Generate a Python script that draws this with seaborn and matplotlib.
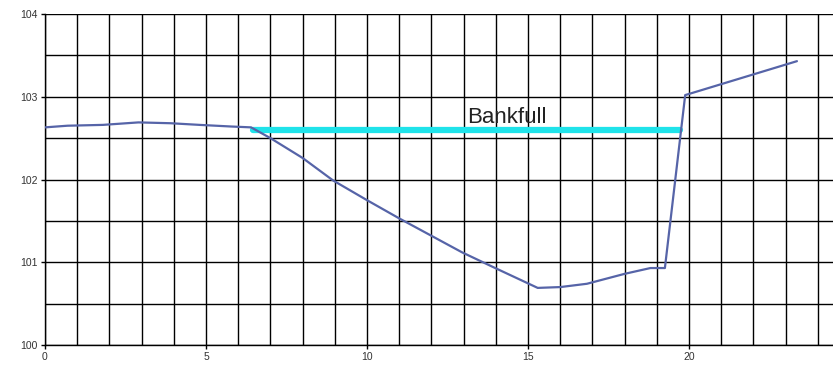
import matplotlib
matplotlib.use("Agg")
import matplotlib.pyplot as plt
import seaborn as sns
import pandas as pd
import numpy as np

# ground profile
station = [0, 0.7, 1.8, 2.9, 3.9, 4.8, 5.8, 6.4, 7.0, 8.0, 8.94, 10.0, 11.0, 12.95,
           13.98, 15.3, 16.0, 16.83, 18.0, 18.8, 19.25, 19.88, 23.35]
elevation = [102.63, 102.65, 102.66, 102.69, 102.68, 102.66, 102.64, 102.63, 102.50,
             102.26, 101.99, 101.75, 101.53, 101.12, 100.93, 100.69, 100.70, 100.74,
             100.86, 100.93, 100.93, 103.02, 103.43]
# bankfull line
bank_x = [6.46, 19.72]
bank_y = [102.6, 102.6]
bank_label = "Bankfull"

x_ticks = [0, 5, 10, 15, 20]
y_ticks = [100, 101, 102, 103, 104]

sns.set_theme(style="white")
plt.rcParams['font.family'] = ['Liberation Sans', 'DejaVu Sans']

fig = plt.figure(figsize=(8.33, 3.66), dpi=100)
ax = fig.add_axes([45/833, 21/366, 1 - 45/833, (345 - 14)/366])

ground = pd.DataFrame({"x": station, "y": elevation})
bank = pd.DataFrame({"x": bank_x, "y": bank_y})

sns.lineplot(data=bank, x="x", y="y", ax=ax, color="#1fe3ea", linewidth=4.5, sort=False, zorder=3)
sns.lineplot(data=ground, x="x", y="y", ax=ax, color="#5664a8", linewidth=1.6, sort=False, zorder=4)

ax.text(13.1, 102.68, bank_label, fontsize=16, color="#222222", ha="left", va="baseline", zorder=5)

ax.set_xlim(0, 24.47)
ax.set_ylim(100, 104)
ax.set_xticks(x_ticks)
ax.set_yticks(y_ticks)
ax.set_xticks(np.arange(0, 25, 1), minor=True)
ax.set_yticks(np.arange(100, 104.01, 0.5), minor=True)
ax.grid(True, which="both", color="black", linewidth=1.0)
ax.set_axisbelow(True)
ax.set_xlabel("")
ax.set_ylabel("")
ax.tick_params(axis="both", which="major", labelsize=7.5, labelcolor="#333333",
               length=3, width=1, color="black", direction="out", pad=2,
               bottom=True, left=True)
ax.tick_params(axis="both", which="minor", length=0)
for s in ["top", "right"]:
    ax.spines[s].set_visible(False)
for s in ["left", "bottom"]:
    ax.spines[s].set_color("black")
    ax.spines[s].set_linewidth(1.0)

fig.savefig("out.png", dpi=100)
